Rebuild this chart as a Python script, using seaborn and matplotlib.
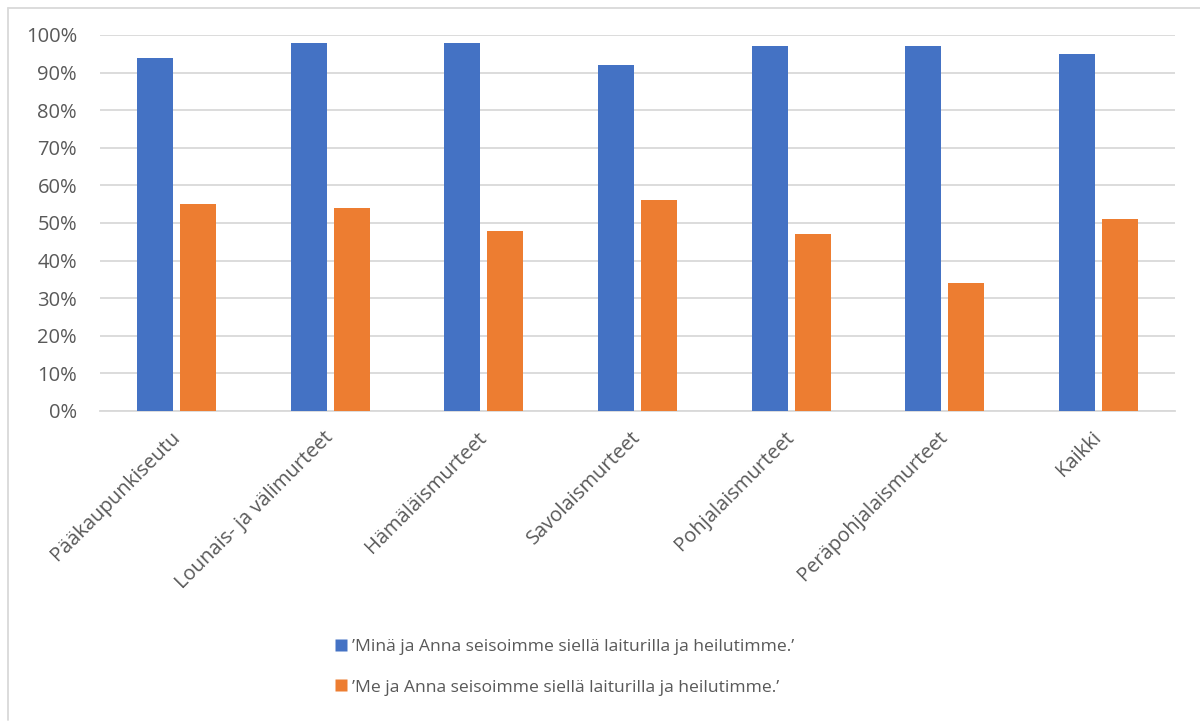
import matplotlib
matplotlib.use("Agg")
import matplotlib.pyplot as plt
from matplotlib.lines import Line2D
from matplotlib.ticker import FuncFormatter, MultipleLocator
from matplotlib.transforms import ScaledTranslation
import pandas as pd
import seaborn as sns

categories = ["Pääkaupunkiseutu", "Lounais- ja välimurteet", "Hämäläismurteet",
              "Savolaismurteet", "Pohjalaismurteet", "Peräpohjalaismurteet", "Kaikki"]
series_names = ["\u2019Minä ja Anna seisoimme siellä laiturilla ja heilutimme.\u2019",
                "\u2019Me ja Anna seisoimme siellä laiturilla ja heilutimme.\u2019"]
mina_values = [94, 98, 98, 92, 97, 97, 95]
me_values = [55, 54, 48, 56, 47, 34, 51]
colors = ["#4472C4", "#ED7D31"]

df = pd.DataFrame({
    "alue": categories * 2,
    "lause": [series_names[0]] * len(categories) + [series_names[1]] * len(categories),
    "osuus": mina_values + me_values,
})

sns.set_theme(style="white")
plt.rcParams["font.family"] = ["Open Sans", "DejaVu Sans"]

W, H = 1200, 722
fig = plt.figure(figsize=(W / 100, H / 100), dpi=100)
ax = fig.add_axes([100 / W, 1 - 411 / H, 1075 / W, 376 / H])

sns.barplot(data=df, x="alue", y="osuus", hue="lause", palette=colors, saturation=1,
            order=categories, hue_order=series_names, width=0.56, gap=0.16,
            edgecolor="none", linewidth=0, ax=ax, legend=False, zorder=3)

ax.set_ylim(0, 100)
ax.set_xlim(-0.5, len(categories) - 0.5)
ax.yaxis.set_major_locator(MultipleLocator(10))
ax.yaxis.set_major_formatter(FuncFormatter(lambda v, _: f"{v:.0f}%"))
ax.grid(axis="y", color="#D9D9D9", linewidth=1.3, zorder=0)
ax.set_axisbelow(True)
for side in ["top", "right", "left"]:
    ax.spines[side].set_visible(False)
ax.spines["bottom"].set_color("#D9D9D9")
ax.spines["bottom"].set_linewidth(1.3)
ax.set_xlabel("")
ax.set_ylabel("")
ax.tick_params(axis="both", length=0, colors="#595959", labelsize=14.5)
ax.tick_params(axis="y", pad=16.5)
ax.tick_params(axis="x", pad=12)
shift = ScaledTranslation(-7 / 100, 0, fig.dpi_scale_trans)
for lbl in ax.get_xticklabels():
    lbl.set_rotation(45)
    lbl.set_ha("right")
    lbl.set_rotation_mode("anchor")
    lbl.set_transform(lbl.get_transform() + shift)

handles = [Line2D([], [], marker="s", linestyle="none", markersize=8.5,
                  markerfacecolor=c, markeredgecolor="none") for c in colors]
fig.legend(handles, series_names, loc="center", bbox_to_anchor=(563 / W, 1 - 667 / H),
           frameon=False, fontsize=12.6, labelcolor="#595959", handletextpad=0.1,
           handlelength=1.0, labelspacing=1.4)

# chart area frame
fig.add_artist(Line2D([7.5 / W, 1], [1 - 7.5 / H, 1 - 7.5 / H], color="#D9D9D9", linewidth=1.3))
fig.add_artist(Line2D([7.5 / W, 7.5 / W], [1 - 7.5 / H, 1 - 720 / H], color="#D9D9D9", linewidth=1.3))

fig.savefig("out.png", dpi=100, facecolor="white")
